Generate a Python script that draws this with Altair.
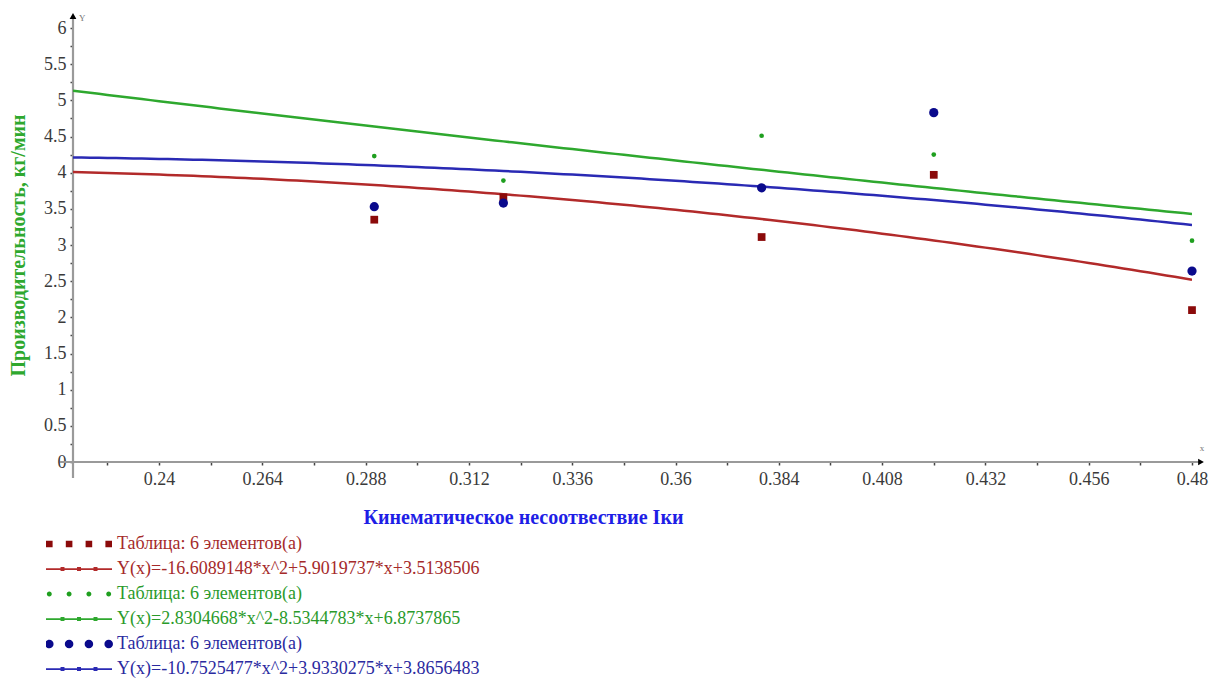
import altair as alt
import pandas as pd

# ---------------- data ----------------
x_vals = [0.29, 0.32, 0.38, 0.42, 0.48]
red_pts = [3.35, 3.66, 3.11, 3.97, 2.10]
green_pts = [4.23, 3.89, 4.51, 4.25, 3.06]
blue_pts = [3.53, 3.58, 3.79, 4.83, 2.64]

# quadratic fit coefficients (from the legend): a*x^2 + b*x + c
fit_names = ["red_fit", "green_fit", "blue_fit"]
fit_a = [-16.6089148, 2.8304668, -10.7525477]
fit_b = [5.9019737, -8.5344783, 3.9330275]
fit_c = [3.5138506, 6.8737865, 3.8656483]
fit_range = [0.22, 0.48]

series_keys = ["red_pts", "red_fit", "green_pts", "green_fit", "blue_pts", "blue_fit"]
legend_labels = [
    "Таблица: 6 элементов(а)",
    "Y(x)=-16.6089148*x^2+5.9019737*x+3.5138506",
    "Таблица: 6 элементов(а)",
    "Y(x)=2.8304668*x^2-8.5344783*x+6.8737865",
    "Таблица: 6 элементов(а)",
    "Y(x)=-10.7525477*x^2+3.9330275*x+3.8656483",
]

x_tick_values = [0.228, 0.24, 0.252, 0.264, 0.276, 0.288, 0.3, 0.312, 0.324, 0.336,
                 0.348, 0.36, 0.372, 0.384, 0.396, 0.408, 0.42, 0.432, 0.444, 0.456,
                 0.468, 0.48]
y_tick_values = [0, 0.25, 0.5, 0.75, 1, 1.25, 1.5, 1.75, 2, 2.25, 2.5, 2.75, 3, 3.25,
                 3.5, 3.75, 4, 4.25, 4.5, 4.75, 5, 5.25, 5.5, 5.75, 6]

x_title = "Кинематическое несоотвествие Iки"
y_title = "Производительность, кг/мин"

# ---------------- styles ----------------
FONT = "Liberation Serif"
series_colors = ["#8b0a0a", "#b22a2a", "#1f9f1f", "#2ea82e", "#0a0a8c", "#2a2ab4"]
label_colors = ["#a52a2a", "#a52a2a", "#2a9a2a", "#2a9a2a", "#2a2aa0", "#2a2aa0"]


def sq(cx, h):
    return f"M{cx-h},{-h}H{cx+h}V{h}H{cx-h}Z"


def circ(cx, r):
    return f"M{cx-r},0A{r},{r} 0 1 0 {cx+r},0A{r},{r} 0 1 0 {cx-r},0Z"


centers = [-0.9, -0.3, 0.3, 0.9]
line_path = "M-1,-0.025H1V0.025H-1Z" + "".join(sq(c, 0.06) for c in [-0.5, 0, 0.5])
legend_paths = [
    "".join(sq(c, 0.1) for c in centers),
    line_path,
    "".join(circ(c, 0.075) for c in centers),
    line_path,
    "".join(circ(c, 0.13) for c in centers),
    line_path,
]

W, H = 1119, 434
xscale = alt.Scale(domain=[0.22, 0.48], nice=False, zero=False)
yscale = alt.Scale(domain=[0, 6], nice=False, zero=False)
color_scale = alt.Scale(domain=series_keys, range=series_colors)

xaxis = alt.Axis(
    values=x_tick_values,
    labelExpr="round(datum.value*1000) % 24 == 0 ? format(datum.value, '~g') : ''",
    title=x_title, titleColor="#1e1ee6", titleFont=FONT, titleFontSize=20,
    titleFontWeight="bold", titleX=450, titleY=55, titleAlign="center",
    titleBaseline="middle", titleAnchor="start",
    domain=False, ticks=True, tickSize=3, tickColor="#444", tickWidth=1.5,
    labelFont=FONT, labelFontSize=18, labelColor="#3a3a3a", labelPadding=5,
    labelFlush=False, labelOverlap=False, grid=False,
)
yaxis = alt.Axis(
    values=y_tick_values,
    labelExpr="(datum.value*4) % 2 == 0 ? format(datum.value, '~g') : ''",
    title=y_title, titleColor="#2ea82e", titleFont=FONT, titleFontSize=20,
    titleFontWeight="bold", titleX=-55, titleY=217, titleAngle=270,
    titleAlign="center", titleBaseline="middle", titleAnchor="start",
    domain=False, ticks=True, tickSize=3, tickColor="#444", tickWidth=1.5,
    labelFont=FONT, labelFontSize=18, labelColor="#3a3a3a", labelPadding=4,
    labelFlush=False, labelOverlap=False, grid=False,
)

X = alt.X("x:Q", scale=xscale, axis=xaxis)
Y = alt.Y("y:Q", scale=yscale, axis=yaxis)

# ---------------- fit lines (computed by Vega-Lite from coefficients) ----------------
calcs = {
    n: f"({a})*datum.x*datum.x + ({b})*datum.x + ({c})"
    for n, a, b, c in zip(fit_names, fit_a, fit_b, fit_c)
}
lines = (
    alt.Chart(alt.sequence(fit_range[0], fit_range[1] + 0.0005, 0.002, as_="x"))
    .transform_calculate(**calcs)
    .transform_fold(fit_names, as_=["key", "y"])
    .mark_line(strokeWidth=2.5, clip=True)
    .encode(x=X, y=Y, color=alt.Color("key:N", scale=color_scale, legend=None))
)

# ---------------- points ----------------
rows = []
for key, vals in [("red_pts", red_pts), ("green_pts", green_pts), ("blue_pts", blue_pts)]:
    for xv, yv in zip(x_vals, vals):
        rows.append({"x": xv, "y": yv, "key": key})
pts = pd.DataFrame(rows)


def point_layer(key, shape, size):
    return (
        alt.Chart(pts)
        .transform_filter(alt.datum.key == key)
        .mark_point(shape=shape, size=size, filled=True, opacity=1)
        .encode(x=X, y=Y, color=alt.Color("key:N", scale=color_scale, legend=None))
    )


p_red = point_layer("red_pts", "square", 60)
p_green = point_layer("green_pts", "circle", 22)
p_blue = point_layer("blue_pts", "circle", 85)

# ---------------- legend (library legend, custom symbols) ----------------
label_expr = "".join(
    f"datum.value == '{k}' ? '{l}' : " for k, l in zip(series_keys, legend_labels)
) + "''"
color_expr = "".join(
    f"datum.value == '{k}' ? '{c}' : " for k, c in zip(series_keys, label_colors)
) + "'#333'"

leg = alt.Legend(
    orient="none", legendX=-27, legendY=504, title=None,
    labelExpr=label_expr, labelColor=alt.ExprRef(expr=color_expr),
    labelFont=FONT, labelFontSize=18, labelLimit=0, labelOffset=5,
    symbolSize=4356, symbolStrokeWidth=0, clipHeight=24.1, rowPadding=0,
    padding=0, direction="vertical", columns=1,
)
legend_df = pd.DataFrame({"key": series_keys, "label": legend_labels})
legend_layer = (
    alt.Chart(legend_df)
    .transform_filter("false")
    .mark_point(filled=True, opacity=1)
    .encode(
        color=alt.Color("key:N", scale=color_scale, legend=leg),
        shape=alt.Shape("key:N", scale=alt.Scale(domain=series_keys, range=legend_paths), legend=leg),
    )
)

# ---------------- axis decorations (Maple-style axes with arrows) ----------------
one = alt.Data(values=[{}])
axis_color = "#9a9a9a"
y_axis_line = alt.Chart(one).mark_rule(color=axis_color, strokeWidth=2.2).encode(
    x=alt.value(0), y=alt.value(-12), y2=alt.value(H + 16))
x_axis_line = alt.Chart(one).mark_rule(color=axis_color, strokeWidth=2.2).encode(
    x=alt.value(-13), x2=alt.value(W + 8), y=alt.value(H))
y_arrow = alt.Chart(one).mark_point(shape="triangle-up", filled=True, color="black", size=45, opacity=1).encode(
    x=alt.value(0), y=alt.value(-12))
x_arrow = alt.Chart(one).mark_point(shape="triangle-right", filled=True, color="black", size=45, opacity=1).encode(
    x=alt.value(W + 9), y=alt.value(H))
y_letter = alt.Chart(one).mark_text(text="Y", font=FONT, fontSize=9, color="#777", align="left").encode(
    x=alt.value(6), y=alt.value(-10))
x_letter = alt.Chart(one).mark_text(text="x", font=FONT, fontSize=9, color="#777", align="center").encode(
    x=alt.value(W + 10), y=alt.value(H - 14))

chart = (
    alt.layer(
        y_axis_line, x_axis_line, lines, p_red, p_green, p_blue, legend_layer,
        y_arrow, x_arrow, y_letter, x_letter,
    )
    .resolve_scale(color="independent", shape="independent")
    .resolve_legend(color="independent", shape="independent")
    .properties(
        width=W, height=H,
        padding={"left": 73, "top": 28, "right": 19, "bottom": 217},
        autosize=alt.AutoSizeParams(type="none"),
        background="white",
    )
    .configure(font=FONT)
    .configure_view(strokeWidth=0, stroke="transparent")
)

chart.save("out.html", embed_options={"renderer": "svg", "actions": False})
